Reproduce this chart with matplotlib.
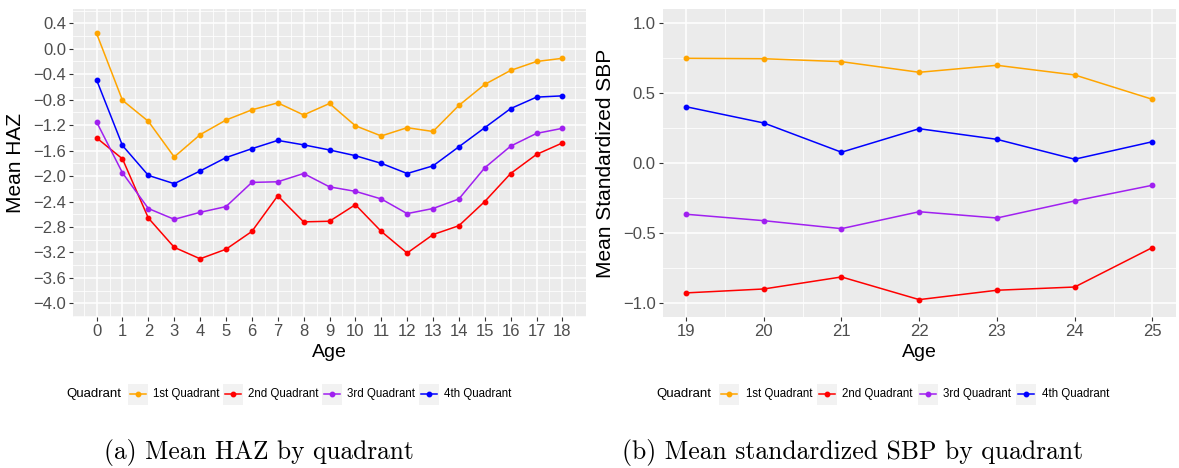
import matplotlib
matplotlib.use("Agg")
import matplotlib.pyplot as plt
from matplotlib.lines import Line2D
from matplotlib.patches import Rectangle

plt.rcParams['font.family'] = ['Liberation Sans', 'DejaVu Sans']

# data
quadrants = ['1st Quadrant', '2nd Quadrant', '3rd Quadrant', '4th Quadrant']
colors = ['#FFA500', '#FF0000', '#A020F0', '#0000FF']

ages_haz = list(range(0, 19))
haz_q1 = [0.24, -0.81, -1.14, -1.70, -1.35, -1.12, -0.96, -0.85, -1.04, -0.86,
          -1.21, -1.37, -1.24, -1.30, -0.89, -0.56, -0.34, -0.20, -0.15]
haz_q2 = [-1.40, -1.73, -2.66, -3.12, -3.30, -3.15, -2.87, -2.31, -2.72, -2.71,
          -2.45, -2.87, -3.21, -2.92, -2.78, -2.40, -1.96, -1.66, -1.48]
haz_q3 = [-1.15, -1.95, -2.51, -2.68, -2.57, -2.48, -2.10, -2.09, -1.96, -2.17,
          -2.24, -2.36, -2.59, -2.51, -2.36, -1.87, -1.53, -1.33, -1.25]
haz_q4 = [-0.49, -1.52, -1.99, -2.12, -1.92, -1.71, -1.57, -1.44, -1.51, -1.59,
          -1.68, -1.80, -1.96, -1.84, -1.54, -1.24, -0.94, -0.76, -0.74]

ages_sbp = list(range(19, 26))
sbp_q1 = [0.75, 0.747, 0.726, 0.65, 0.70, 0.631, 0.457]
sbp_q2 = [-0.926, -0.898, -0.812, -0.974, -0.907, -0.884, -0.602]
sbp_q3 = [-0.364, -0.41, -0.467, -0.346, -0.391, -0.269, -0.157]
sbp_q4 = [0.404, 0.288, 0.079, 0.247, 0.171, 0.029, 0.154]

haz_ticks = [-4.0, -3.6, -3.2, -2.8, -2.4, -2.0, -1.6, -1.2, -0.8, -0.4, 0.0, 0.4]
sbp_ticks = [-1.0, -0.5, 0.0, 0.5, 1.0]

W, H = 1179, 468
fig = plt.figure(figsize=(W / 100, H / 100), dpi=100)


def px_axes(x0, y0, x1, y1):
    return fig.add_axes([x0 / W, 1 - y1 / H, (x1 - x0) / W, (y1 - y0) / H])


def fmt(t):
    # ggplot prints a real minus sign
    s = '%.1f' % abs(t)
    return ('\u2212' + s) if t < -1e-9 else s


def gg_style(ax, xticks, yticks, xminor, yminor):
    ax.set_facecolor('#EBEBEB')
    for s in ax.spines.values():
        s.set_visible(False)
    ax.set_xticks(xticks)
    ax.set_yticks(yticks)
    ax.set_yticklabels([fmt(t) for t in yticks])
    ax.set_xticks(xminor, minor=True)
    ax.set_yticks(yminor, minor=True)
    ax.grid(which='major', color='white', linewidth=1.1)
    ax.grid(which='minor', color='white', linewidth=0.55)
    ax.set_axisbelow(True)
    ax.tick_params(which='major', length=3, width=0.8, color='#333333',
                   labelcolor='#4D4D4D', labelsize=12, pad=2)
    ax.tick_params(which='minor', length=0)


def draw_series(ax, x, series):
    for ys, c in zip(series, colors):
        ax.plot(x, ys, color=c, linewidth=1.1, marker='o', markersize=3.2,
                solid_joinstyle='round')


# left panel: HAZ
ax1 = px_axes(73.3, 9.3, 585.7, 316.7)
gg_style(ax1, ages_haz, haz_ticks,
         [a + 0.5 for a in range(-1, 19)],
         [t + 0.2 for t in [-4.4] + haz_ticks])
draw_series(ax1, ages_haz, [haz_q1, haz_q2, haz_q3, haz_q4])
ax1.set_xlim(-0.9, 18.9)
ax1.set_ylim(-4.21, 0.62)
ax1.set_ylabel('Mean HAZ', fontsize=15)
ax1.yaxis.set_label_coords(-0.094, 0.5)
ax1.set_xlabel('Age', fontsize=14, va='top')
ax1.xaxis.set_label_coords(0.5, -0.09)

# right panel: SBP
ax2 = px_axes(662.7, 9.3, 1175.7, 316.7)
gg_style(ax2, ages_sbp, sbp_ticks,
         [a + 0.5 for a in range(18, 26)],
         [-0.75, -0.25, 0.25, 0.75])
draw_series(ax2, ages_sbp, [sbp_q1, sbp_q2, sbp_q3, sbp_q4])
ax2.set_xlim(18.7, 25.3)
ax2.set_ylim(-1.096, 1.1)
ax2.set_ylabel('Mean Standardized SBP', fontsize=15)
ax2.yaxis.set_label_coords(-0.093, 0.5)
ax2.set_xlabel('Age', fontsize=14, va='top')
ax2.xaxis.set_label_coords(0.5, -0.09)


# legends, ggplot style with the title on the left
def gg_legend(x_title, x_keys, x_texts, y):
    fy = 1 - y / H
    fig.text(x_title / W, fy, 'Quadrant', fontsize=9.5, va='center', ha='left')
    for lab, c, xk, xt in zip(quadrants, colors, x_keys, x_texts):
        fig.patches.append(Rectangle((xk / W, 1 - (y + 10.5) / H), 20 / W, 21 / H,
                                     transform=fig.transFigure,
                                     facecolor='#F2F2F2', edgecolor='none'))
        fig.lines.append(Line2D([(xk + 2) / W, (xk + 18) / W], [fy, fy],
                                transform=fig.transFigure, color=c, linewidth=1.1))
        fig.lines.append(Line2D([(xk + 10) / W], [fy], transform=fig.transFigure,
                                color=c, marker='o', markersize=3.2))
        fig.text(xt / W, fy, lab, fontsize=8.3, va='center', ha='left')


gg_legend(66.7, [128, 222.7, 322.3, 419], [153.3, 248, 347, 444], 394)
gg_legend(656.7, [719.3, 816.7, 917.7, 1016], [745.7, 842.3, 943.3, 1041.7], 394)

# sub-captions
fig.text(259 / W, 1 - 452 / H, '(a) Mean HAZ by quadrant', fontsize=18.3,
         family='cmr10', ha='center', va='center')
fig.text(853 / W, 1 - 452 / H, '(b) Mean standardized SBP by quadrant', fontsize=18.5,
         family='cmr10', ha='center', va='center')

fig.savefig('out.png', dpi=100)
